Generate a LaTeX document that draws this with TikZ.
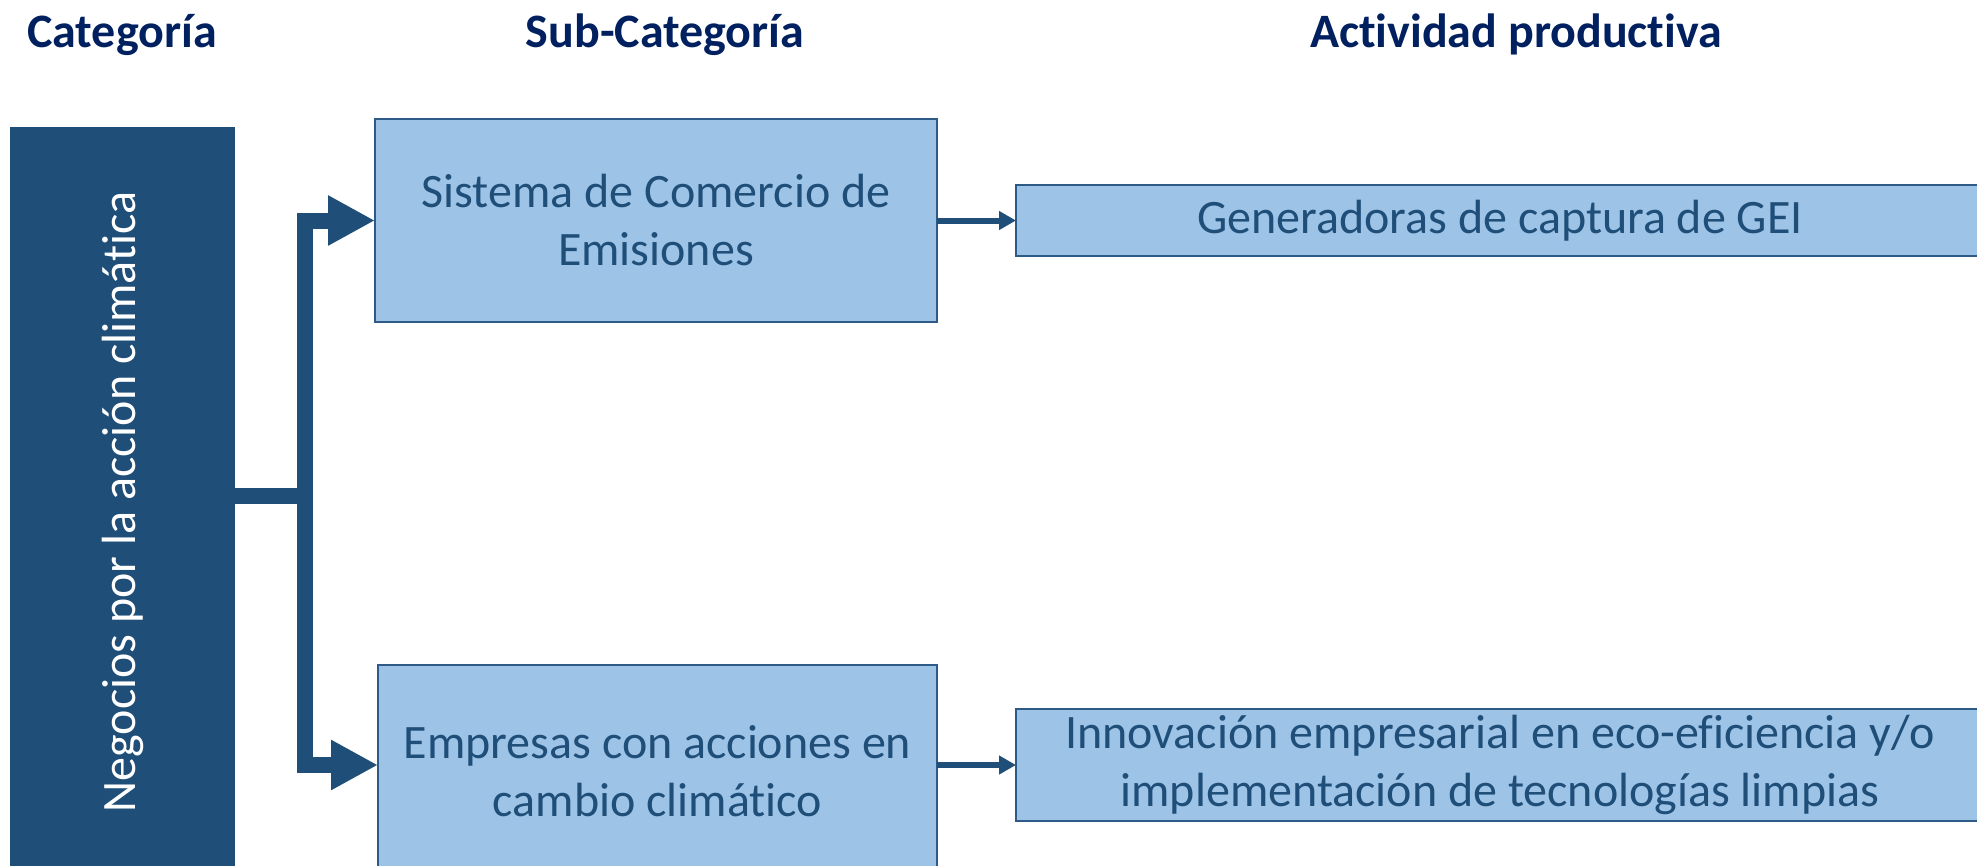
\documentclass[tikz,border=0pt]{standalone}
\usepackage{fontspec}
\setmainfont{Carlito}[RawFeature={-liga;-clig;-dlig}]
\usetikzlibrary{arrows.meta}
\definecolor{navy}{HTML}{002060}
\definecolor{dblue}{HTML}{1F4E79}
\definecolor{lblue}{HTML}{9DC3E6}
\definecolor{bord}{HTML}{2E5A87}
\begin{document}
\begin{tikzpicture}[x=1pt,y=-1pt,
  every node/.style={inner sep=0pt, outer sep=0pt},
  title/.style={font=\fontsize{48}{58}\selectfont\bfseries, text=navy, anchor=base},
  catbox/.style={fill=dblue, draw=none, text=white, font=\fontsize{48}{58}\selectfont},
  subbox/.style={fill=lblue, draw=bord, line width=2pt, text=dblue, align=center, font=\fontsize{48}{58}\selectfont},
  conn/.style={draw=dblue, line width=16pt, line join=miter, -{Triangle[length=47pt,width=47pt]}},
  smallconn/.style={draw=dblue, line width=6pt, -{Triangle[length=17pt,width=18pt]}}
]
\useasboundingbox (0,0) rectangle (1977,865);
\clip (0,0) rectangle (1977,865);
\node[title] (t1) at (122,47) {Categoría};
\node[title] (t2) at (665,47) {Sub-Categoría};
\node[title] (t3) at (1516,47) {Actividad productiva};
\node[catbox, minimum width=225pt, minimum height=750pt] (cat) at (122.5,502) {\rotatebox{90}{Negocios por la acción climática}};
\node[subbox, minimum width=562pt, minimum height=203pt] (s1) at (656,220.5) {Sistema de Comercio de\\Emisiones};
\node[subbox, minimum width=559pt, minimum height=212pt] (s2) at (657.5,771) {Empresas con acciones en\\cambio climático};
\node[subbox, minimum width=968pt, minimum height=71pt] (a1) at (1500,220.5) {Generadoras de captura de GEI};
\node[subbox, minimum width=968pt, minimum height=112pt] (a2) at (1500,765) {Innovación empresarial en eco-eficiencia y/o\\implementación de tecnologías limpias};
\coordinate (s2in) at ([yshift=6pt]s2.west);
\coordinate (s2out) at ([yshift=6pt]s2.east);
\coordinate (catout) at ([yshift=6pt]cat.east);
\draw[conn] (catout) -- ++(70,0) |- (s1.west);
\draw[conn] (catout) -- ++(70,0) |- (s2in);
\draw[smallconn] (s1.east) -- (a1.west);
\draw[smallconn] (s2out) -- (a2.west);
\end{tikzpicture}
\end{document}
